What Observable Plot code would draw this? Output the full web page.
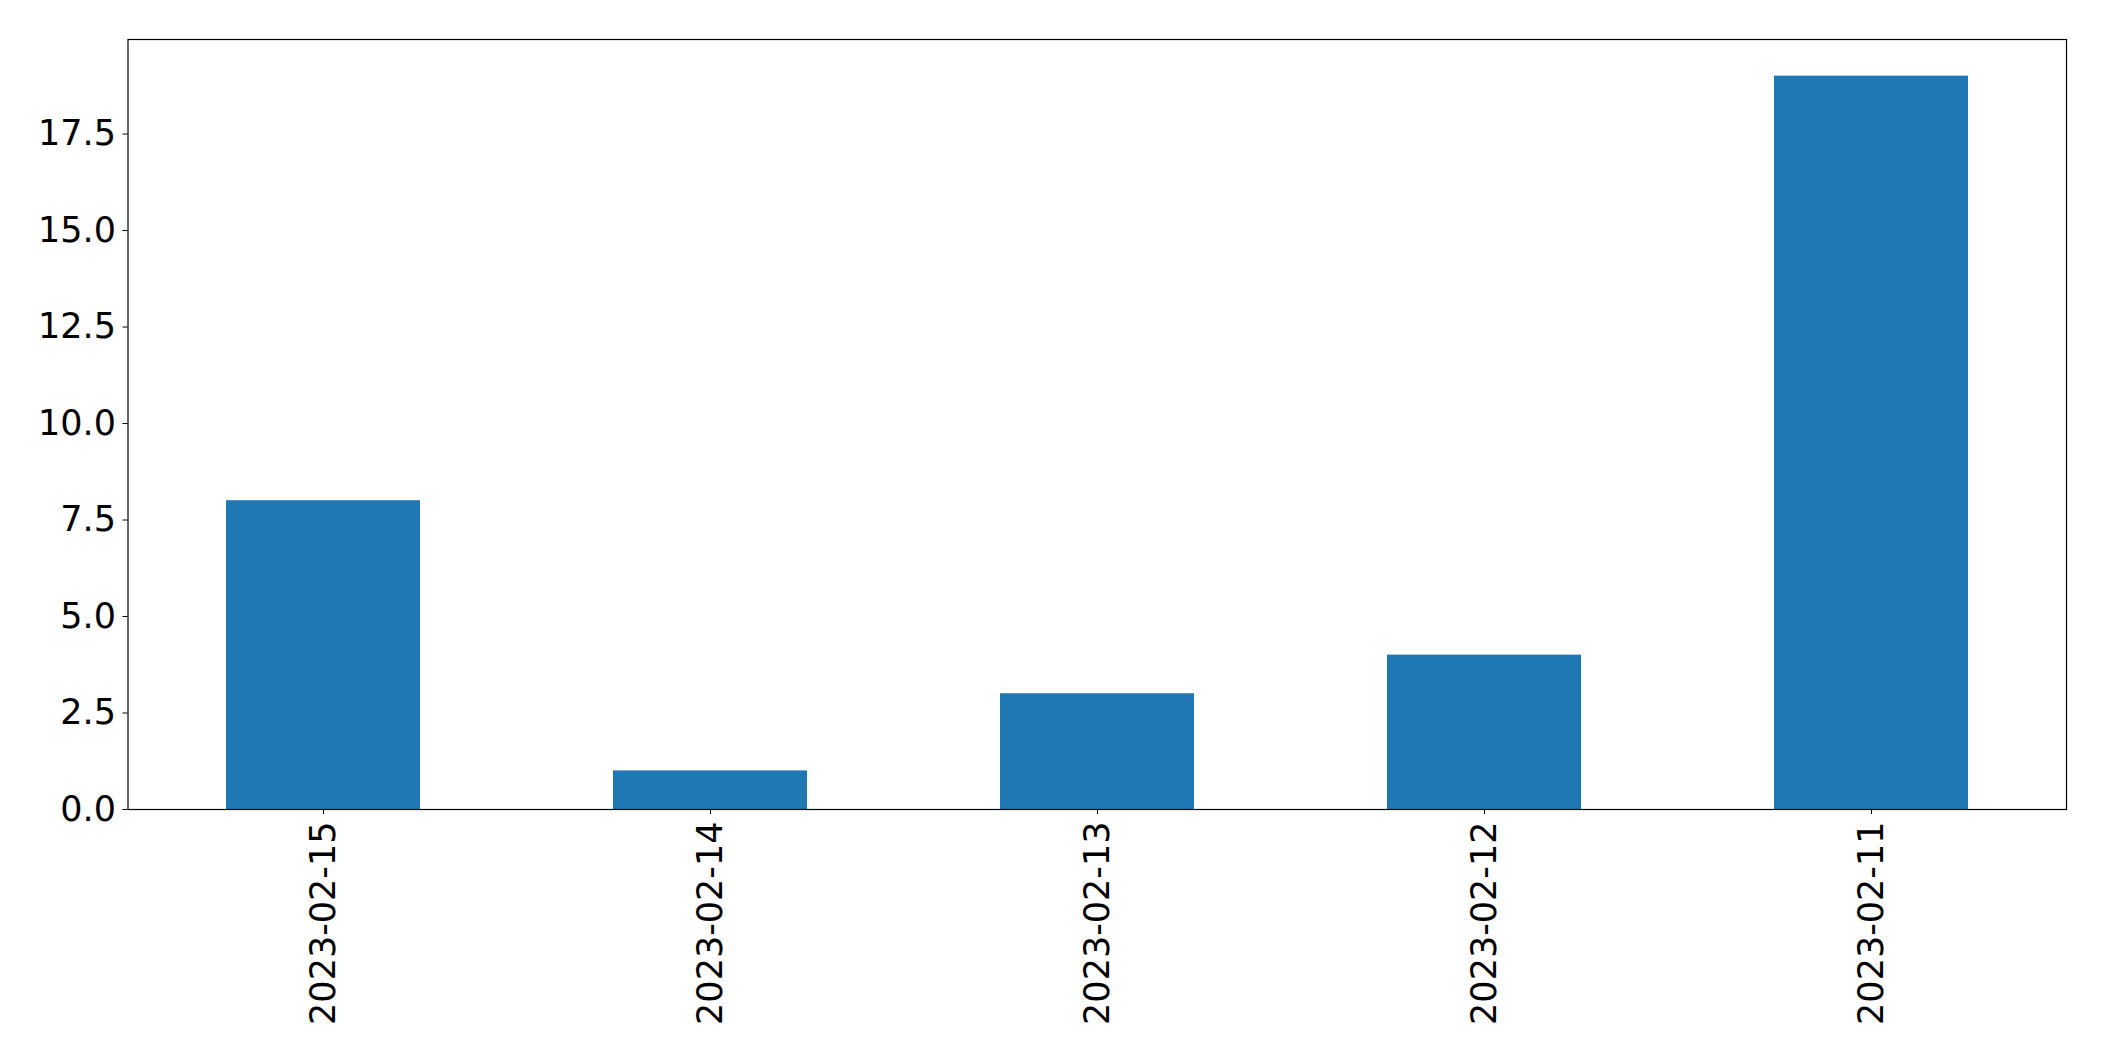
<!DOCTYPE html>
<html>
<head>
<meta charset="utf-8">
<script src="https://cdn.jsdelivr.net/npm/d3@7"></script>
<script src="https://cdn.jsdelivr.net/npm/@observablehq/plot@0.6"></script>
<style>
  html, body { margin: 0; padding: 0; background: #fff; }
  #chart svg { display: block; }
</style>
</head>
<body>
<div id="chart"></div>
<script>
const dates = ["2023-02-15", "2023-02-14", "2023-02-13", "2023-02-12", "2023-02-11"];
const counts = [8, 1, 3, 4, 19];
const yTicks = [0, 2.5, 5, 7.5, 10, 12.5, 15, 17.5];

const data = dates.map((d, i) => ({date: d, count: counts[i]}));

const chart = Plot.plot({
  width: 2104,
  height: 1061,
  marginLeft: 127.5,
  marginRight: 38,
  marginTop: 39,
  marginBottom: 252,
  style: {fontFamily: "DejaVu Sans", fontSize: "35px", color: "#000", background: "#fff"},
  x: {domain: dates, paddingInner: 0.5, paddingOuter: 0.25, label: null},
  y: {domain: [0, 19.95], label: null},
  marks: [
    Plot.barY(data, {x: "date", y: "count", fill: "#1f77b4"}),
    Plot.axisY({ticks: yTicks, tickFormat: d3.format(".1f"), tickSize: 5, tickPadding: 7, fontSize: 35, label: null, stroke: "#000"}),
    Plot.axisX({tickSize: 5, tickPadding: 7, tickRotate: -90, fontSize: 35, label: null, stroke: "#000"}),
    Plot.frame({stroke: "#000", strokeWidth: 1.2})
  ]
});
document.getElementById("chart").appendChild(chart);
</script>
</body>
</html>
